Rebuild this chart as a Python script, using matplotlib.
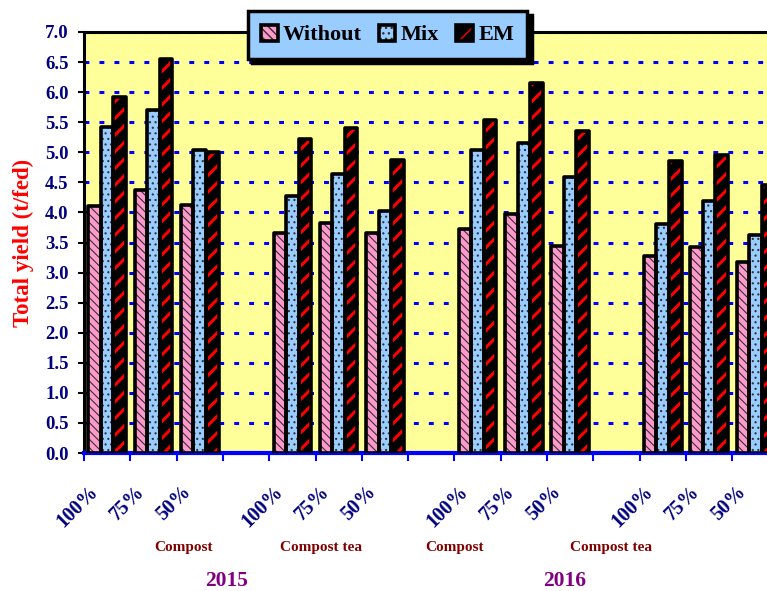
import numpy as np
import matplotlib.pyplot as plt
from matplotlib.transforms import ScaledTranslation, blended_transform_factory

plt.rcParams['font.family'] = ['Liberation Serif', 'DejaVu Serif']
plt.rcParams['font.weight'] = 'bold'
plt.rcParams['axes.labelweight'] = 'bold'

rates = ['100%', '75%', '50%']
sources = ['Compost', 'Compost tea', 'Compost', 'Compost tea']
seasons = ['2015', '2016']
treatments = ['Without', 'Mix', 'EM']

# total yield (t/fed), 2015 compost, 2015 compost tea, 2016 compost, 2016 compost tea
without = [4.10, 4.37, 4.13, 3.66, 3.82, 3.66, 3.72, 3.97, 3.45, 3.28, 3.42, 3.18]
mix = [5.42, 5.70, 5.03, 4.27, 4.64, 4.02, 5.03, 5.15, 4.59, 3.81, 4.19, 3.62]
em = [5.92, 6.55, 5.01, 5.22, 5.40, 4.87, 5.53, 6.16, 5.36, 4.86, 4.96, 4.46]

# where the group / season captions sit along x
source_x = [1.64, 4.62, 7.51, 10.88]
season_x = [2.57, 9.87]

fig = plt.figure(figsize=(7.67, 5.91), dpi=100)
ax = fig.add_axes([84 / 767, 138 / 591, 694.5 / 767, 421 / 591])
ax.set_facecolor('#FFFF99')

# each source gets 3 slots + one empty slot
pos = np.array([g * 4 + r for g in range(4) for r in range(3)], dtype=float)
w = 0.27
styles = [
    (without, -w, '#FF99CC', '#333333', '\\\\\\\\', 0.8),
    (mix, 0.0, '#99CCFF', '#333333', '...', 0.8),
    (em, w, 'black', '#FF0000', '//', 2.2),
]
handles = []
for vals, off, fc, hc, hatch, hlw in styles:
    with plt.rc_context({'hatch.linewidth': hlw}):
        base = ax.bar(pos + off, vals, width=w, color=fc, edgecolor=hc,
                      hatch=hatch, linewidth=0, zorder=3)
    outline = ax.bar(pos + off, vals, width=w, fill=False, edgecolor='black',
                     linewidth=2.6, joinstyle='round', zorder=4)
    handles.append((base[0], outline[0]))

ax.set_xlim(-0.5, 14.5)
ax.set_ylim(0, 7)
ax.set_yticks(np.arange(0, 7.01, 0.5))
ax.set_yticklabels([f'{v:.1f}' for v in np.arange(0, 7.01, 0.5)])
ax.tick_params(axis='y', colors='black', labelcolor='#000080', labelsize=13.5,
               length=4, width=1.5, direction='out', pad=7)
ax.set_xticks(np.arange(-0.5, 14.6, 1))
ax.set_xticklabels([])
ax.tick_params(axis='x', colors='blue', length=6, width=1.5, direction='out')

ax.yaxis.grid(True, color='blue', linewidth=2.2, linestyle=(0, (1.6, 3.3)))
ax.set_axisbelow(True)

for side in ['left', 'top']:
    ax.spines[side].set_linewidth(2.2)
    ax.spines[side].set_color('black')
ax.spines['bottom'].set_color('blue')
ax.spines['bottom'].set_linewidth(3)
ax.spines['right'].set_visible(False)

ax.set_ylabel('Total yield (t/fed)', color='red', fontsize=16.5, labelpad=8)

# rate labels under each cluster
shift = ScaledTranslation(-5 / 100, -29 / 100, fig.dpi_scale_trans)
for x, i in zip(pos, range(len(pos))):
    ax.text(x, 0, rates[i % 3], transform=ax.get_xaxis_transform() + shift,
            rotation=45, ha='right', va='top', fontsize=14.5, color='#000080')

tr = blended_transform_factory(ax.transData, fig.transFigure)
for x, s in zip(source_x, sources):
    fig.text(x, 1 - 548 / 591, s, transform=tr, ha='center', va='center',
             fontsize=11, color='#800000')
for x, s in zip(season_x, seasons):
    fig.text(x, 1 - 581 / 591, s, transform=tr, ha='center', va='center',
             fontsize=15.5, color='#800080')

leg = fig.legend(handles, treatments, loc='center', ncol=3,
                 bbox_to_anchor=(387.5 / 767, 1 - 35 / 591), fontsize=16,
                 handlelength=0.75, handleheight=0.75, handletextpad=0.25,
                 columnspacing=0.75, borderpad=0.6, fancybox=False,
                 shadow={'color': 'black', 'alpha': 1, 'ox': 3, 'oy': -3})
leg.get_frame().set_facecolor('#99CCFF')
leg.get_frame().set_edgecolor('black')
leg.get_frame().set_linewidth(2.5)
leg.get_frame().set_alpha(1)

fig.savefig('out.png', dpi=100)
